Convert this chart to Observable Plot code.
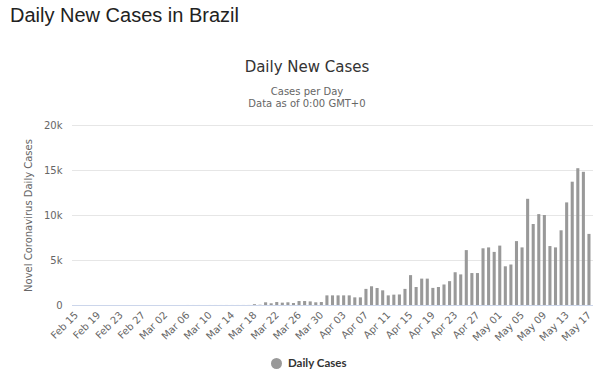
<!DOCTYPE html>
<html>
<head>
<meta charset="utf-8">
<script src="https://cdn.jsdelivr.net/npm/d3@7"></script>
<script src="https://cdn.jsdelivr.net/npm/@observablehq/plot@0.6"></script>
<style>
  html, body { margin: 0; padding: 0; background: #fff; }
  #wrap { position: relative; width: 600px; height: 373px; overflow: hidden; background: #fff; }
  #page-title { position: absolute; left: 10px; top: 4px; font: 20px "Liberation Sans", Arial, sans-serif; color: #222; white-space: nowrap; }
  #chart-title { position: absolute; left: 0; width: 614px; top: 58px; text-align: center; font: 15px "DejaVu Sans", sans-serif; color: #333; }
  #chart-sub { position: absolute; left: 0; width: 614px; top: 86px; text-align: center; font: 10px/12px "DejaVu Sans", sans-serif; color: #666; }
  #plot { position: absolute; left: 0; top: 110px; }
  #legend { position: absolute; left: 271px; top: 356px; font: bold 11.5px Lato, "DejaVu Sans", sans-serif; color: #333; white-space: nowrap; }
  #legend .dot { display: inline-block; width: 11px; height: 11px; border-radius: 50%; background: #999; vertical-align: -2px; margin-right: 6px; }
</style>
</head>
<body>
<div id="wrap">
  <div id="page-title">Daily New Cases in Brazil</div>
  <div id="chart-title">Daily New Cases</div>
  <div id="chart-sub">Cases per Day<br>Data as of 0:00 GMT+0</div>
  <div id="plot"></div>
  <div id="legend"><span class="dot"></span>Daily Cases</div>
</div>
<script>
const dates = [
  "Feb 15","Feb 16","Feb 17","Feb 18","Feb 19","Feb 20","Feb 21","Feb 22","Feb 23","Feb 24","Feb 25","Feb 26","Feb 27","Feb 28","Feb 29",
  "Mar 01","Mar 02","Mar 03","Mar 04","Mar 05","Mar 06","Mar 07","Mar 08","Mar 09","Mar 10","Mar 11","Mar 12","Mar 13","Mar 14","Mar 15","Mar 16","Mar 17","Mar 18","Mar 19","Mar 20","Mar 21","Mar 22","Mar 23","Mar 24","Mar 25","Mar 26","Mar 27","Mar 28","Mar 29","Mar 30","Mar 31",
  "Apr 01","Apr 02","Apr 03","Apr 04","Apr 05","Apr 06","Apr 07","Apr 08","Apr 09","Apr 10","Apr 11","Apr 12","Apr 13","Apr 14","Apr 15","Apr 16","Apr 17","Apr 18","Apr 19","Apr 20","Apr 21","Apr 22","Apr 23","Apr 24","Apr 25","Apr 26","Apr 27","Apr 28","Apr 29","Apr 30",
  "May 01","May 02","May 03","May 04","May 05","May 06","May 07","May 08","May 09","May 10","May 11","May 12","May 13","May 14","May 15","May 16","May 17"
];
const dailyCases = [
  0,0,0,0,0,0,0,0,0,0,0,1,0,0,0,
  1,0,0,1,1,2,2,2,0,2,3,3,4,4,4,5,6,90,30,300,190,330,260,300,220,440,440,400,300,330,1070,
  1070,1070,1070,1070,850,850,1790,2080,1890,1630,1070,1150,1170,1790,3320,2000,2930,2930,1900,2000,2280,2650,3640,3400,6100,3550,3550,6300,6400,5900,
  6600,4300,4500,7100,6400,11800,9000,10100,10000,6550,6400,8300,11400,13700,15200,14800,7900
];
const xTickLabels = ["Feb 15","Feb 19","Feb 23","Feb 27","Mar 02","Mar 06","Mar 10","Mar 14","Mar 18","Mar 22","Mar 26","Mar 30","Apr 03","Apr 07","Apr 11","Apr 15","Apr 19","Apr 23","Apr 27","May 01","May 05","May 09","May 13","May 17"];
const yTicks = [0, 5000, 10000, 15000, 20000];
const yTickLabels = ["0", "5k", "10k", "15k", "20k"];

const rows = dates.map((d, i) => ({date: d, value: dailyCases[i]}));

const chart = Plot.plot({
  width: 600,
  height: 240,
  marginTop: 15,
  marginBottom: 45,
  marginLeft: 72,
  marginRight: 7,
  style: {fontFamily: '"DejaVu Sans", sans-serif', fontSize: "10px", color: "#666", background: "transparent", overflow: "visible"},
  x: {type: "band", domain: dates, padding: 0.45, align: 0.5},
  y: {domain: [0, 20000]},
  marks: [
    Plot.gridY(yTicks, {stroke: "#e6e6e6", strokeOpacity: 1}),
    Plot.barY(rows, {x: "date", y: "value", fill: "#999"}),
    Plot.ruleY([0], {stroke: "#ccd6eb"}),
    Plot.axisY(yTicks, {
      tickSize: 0, tickPadding: 10,
      tickFormat: d => yTickLabels[yTicks.indexOf(d)],
      label: "Novel Coronavirus Daily Cases", labelAnchor: "center", labelArrow: "none", labelOffset: 48
    }),
    Plot.axisX(xTickLabels, {tickSize: 0, tickPadding: 8, tickRotate: -45, label: null})
  ]
});
document.getElementById("plot").appendChild(chart);
</script>
</body>
</html>
